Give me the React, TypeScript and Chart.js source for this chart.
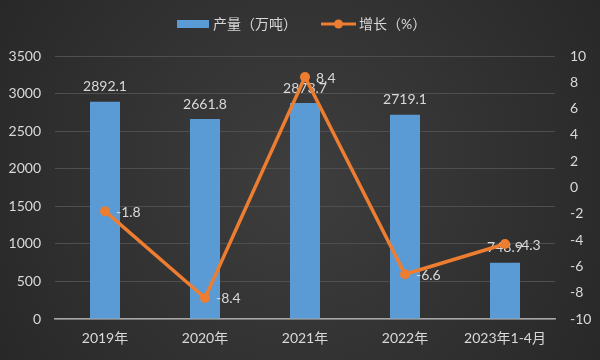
import React, { useEffect, useRef } from "react";
import { Chart, registerables } from "chart.js";

Chart.register(...registerables);

const categories = ["2019年", "2020年", "2021年", "2022年", "2023年1-4月"];
const outputValues = [2892.1, 2661.8, 2873.7, 2719.1, 748.9];
const growthValues = [-1.8, -8.4, 8.4, -6.6, -4.3];
const outputLabel = "产量（万吨）";
const growthLabel = "增长（%）";

const FONT = "Lato, 'Noto Sans CJK SC', sans-serif";
const TEXT = "#d9d9d9";
const BLUE = "#5B9BD5";
const ORANGE = "#ED7D31";

const bgPlugin = {
  id: "bgPlugin",
  beforeDraw(chart: any) {
    const { ctx, width, height } = chart;
    ctx.save();
    const g = ctx.createRadialGradient(width / 2, height / 2, 0, width / 2, height / 2, 380);
    g.addColorStop(0, "#3e3e3e");
    g.addColorStop(1, "#262626");
    ctx.fillStyle = g;
    ctx.fillRect(0, 0, width, height);
    ctx.restore();
  },
};

const labelPlugin = {
  id: "labelPlugin",
  afterDatasetDraw(chart: any, args: any) {
    if (args.index !== 0) return;
    const { ctx } = chart;
    const meta = chart.getDatasetMeta(0);
    ctx.save();
    ctx.fillStyle = TEXT;
    ctx.font = `14px ${FONT}`;
    ctx.textAlign = "center";
    ctx.textBaseline = "middle";
    meta.data.forEach((el: any, i: number) => {
      ctx.fillText(String(outputValues[i]), el.x, el.y - 15);
    });
    ctx.restore();
  },
  afterDatasetsDraw(chart: any) {
    const { ctx } = chart;
    const meta = chart.getDatasetMeta(1);
    ctx.save();
    ctx.fillStyle = TEXT;
    ctx.font = `14px ${FONT}`;
    ctx.textAlign = "left";
    ctx.textBaseline = "middle";
    meta.data.forEach((el: any, i: number) => {
      ctx.fillText(String(growthValues[i]), el.x + 11, el.y + 1);
    });
    ctx.restore();
  },
  afterDraw(chart: any) {
    const { ctx } = chart;
    ctx.save();
    ctx.fillStyle = BLUE;
    ctx.fillRect(177, 20, 32, 8);
    ctx.fillStyle = TEXT;
    ctx.font = `14px ${FONT}`;
    ctx.textBaseline = "middle";
    ctx.textAlign = "left";
    ctx.fillText(outputLabel, 213, 24);
    ctx.strokeStyle = ORANGE;
    ctx.lineWidth = 3;
    ctx.beginPath();
    ctx.moveTo(321, 24);
    ctx.lineTo(356, 24);
    ctx.stroke();
    ctx.fillStyle = ORANGE;
    ctx.beginPath();
    ctx.arc(338.5, 24, 4.5, 0, Math.PI * 2);
    ctx.fill();
    ctx.fillStyle = TEXT;
    ctx.fillText(growthLabel, 359, 24);
    ctx.restore();
  },
};

export default function App() {
  const ref = useRef<HTMLCanvasElement>(null);
  useEffect(() => {
    if (!ref.current) return;
    const chart = new Chart(ref.current, {
      type: "bar",
      data: {
        labels: categories,
        datasets: [
          {
            type: "bar",
            label: outputLabel,
            data: outputValues,
            backgroundColor: BLUE,
            yAxisID: "y",
            barPercentage: 0.3,
            categoryPercentage: 1,
            order: 1,
          },
          {
            type: "line",
            label: growthLabel,
            data: growthValues,
            borderColor: ORANGE,
            backgroundColor: ORANGE,
            borderWidth: 3.5,
            pointRadius: 5,
            pointBackgroundColor: ORANGE,
            pointBorderWidth: 0,
            tension: 0,
            yAxisID: "y1",
            order: 0,
          },
        ] as any,
      },
      options: {
        animation: false,
        responsive: false,
        layout: { padding: { top: 56, left: 0, right: 0, bottom: 0 } },
        plugins: { legend: { display: false }, tooltip: { enabled: false } },
        scales: {
          x: {
            grid: { display: false, drawTicks: false },
            border: { display: true, color: "#a6a6a6", width: 1.5 },
            ticks: { color: TEXT, font: { size: 14, family: FONT }, padding: 11, maxRotation: 0 },
            afterFit(scale: any) {
              scale.height = 41;
            },
          },
          y: {
            position: "left",
            min: 0,
            max: 3500,
            ticks: {
              stepSize: 500,
              color: TEXT,
              font: { size: 14, family: FONT },
              padding: 14,
              callback: (v: any) => String(v),
            },
            grid: { color: "#4f4f4f", drawTicks: false, lineWidth: 1 },
            border: { display: false },
            afterFit(scale: any) {
              scale.width = 55;
            },
          },
          y1: {
            position: "right",
            min: -10,
            max: 10,
            ticks: {
              stepSize: 2,
              color: TEXT,
              font: { size: 14, family: FONT },
              padding: 15,
              callback: (v: any) => String(v),
            },
            grid: { display: false, drawTicks: false },
            border: { display: false },
            afterFit(scale: any) {
              scale.width = 45;
            },
          },
        },
      } as any,
      plugins: [bgPlugin, labelPlugin],
    });
    return () => chart.destroy();
  }, []);
  return (
    <div style={{ position: "fixed", left: 0, top: 0, width: 600, height: 360 }}>
      <canvas ref={ref} width={600} height={360} style={{ width: 600, height: 360, display: "block" }} />
    </div>
  );
}
